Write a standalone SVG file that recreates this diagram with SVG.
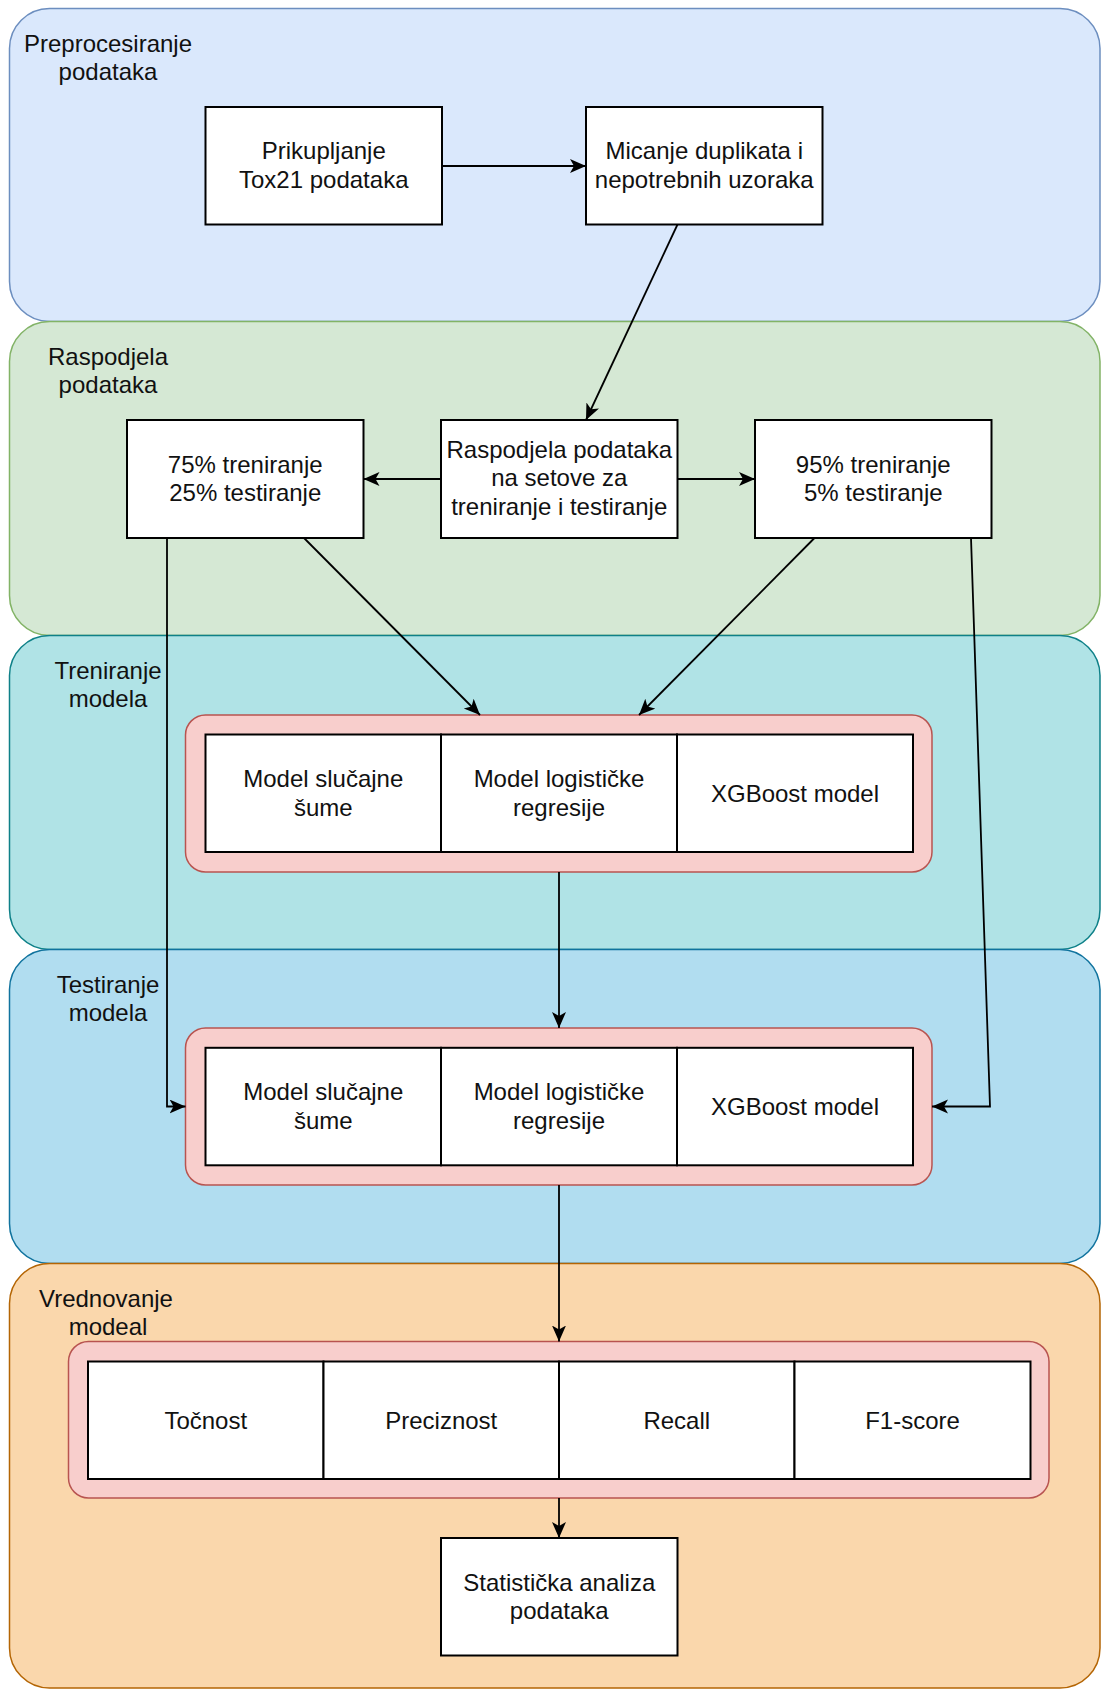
<svg xmlns="http://www.w3.org/2000/svg" width="1102" height="1690" viewBox="0 0 1102 1690">
<defs>
<style>
.lane{stroke-width:1.5}
.title,.t{font-family:"Liberation Sans",Arial,sans-serif;font-size:24px;fill:#111;text-anchor:middle}
.box{fill:#fff;stroke:#000;stroke-width:2}
.grp{fill:#f8cecc;stroke:#b85450;stroke-width:1.5}
.edge{fill:none;stroke:#000;stroke-width:1.8}
</style>
<marker id="arr" markerUnits="userSpaceOnUse" markerWidth="18" markerHeight="16" refX="16" refY="7" orient="auto">
<path d="M0,0 L16,7 L0,14 L4,7 Z" fill="#000"/>
</marker>
</defs>
<rect width="1102" height="1690" fill="#fff"/>

<g id="lane-preprocesiranje">
<rect class="lane" x="9.5" y="8.5" width="1090.5" height="313" rx="40" fill="#dae8fc" stroke="#6c8ebf"/>
<text class="title" x="108" y="51.5">Preprocesiranje</text>
<text class="title" x="108" y="80">podataka</text>
</g>
<g id="lane-raspodjela">
<rect class="lane" x="9.5" y="321.5" width="1090.5" height="314" rx="40" fill="#d5e8d4" stroke="#82b366"/>
<text class="title" x="108" y="364.5">Raspodjela</text>
<text class="title" x="108" y="393">podataka</text>
</g>
<g id="lane-treniranje">
<rect class="lane" x="9.5" y="635.5" width="1090.5" height="314" rx="40" fill="#b0e3e6" stroke="#0e8088"/>
<text class="title" x="108" y="678.5">Treniranje</text>
<text class="title" x="108" y="707">modela</text>
</g>
<g id="lane-testiranje">
<rect class="lane" x="9.5" y="949.5" width="1090.5" height="314" rx="40" fill="#b1ddf0" stroke="#10739e"/>
<text class="title" x="108" y="992.5">Testiranje</text>
<text class="title" x="108" y="1021">modela</text>
</g>
<g id="lane-vrednovanje">
<rect class="lane" x="9.5" y="1263.5" width="1090.5" height="424.5" rx="40" fill="#fad7ac" stroke="#b46504"/>
<text class="title" x="106" y="1306.5">Vrednovanje</text>
<text class="title" x="108" y="1335">modeal</text>
</g>

<g id="n-prikupljanje">
<rect class="box" x="205.5" y="107" width="236.5" height="117.5"/>
<text class="t" x="323.75" y="159">Prikupljanje</text>
<text class="t" x="323.75" y="188">Tox21 podataka</text>
</g>
<g id="n-micanje">
<rect class="box" x="586" y="107" width="236.5" height="117.5"/>
<text class="t" x="704.25" y="159">Micanje duplikata i</text>
<text class="t" x="704.25" y="188">nepotrebnih uzoraka</text>
</g>
<g id="n-raspodjela">
<rect class="box" x="441" y="420" width="236.5" height="118"/>
<text class="t" x="559.25" y="457.5">Raspodjela podataka</text>
<text class="t" x="559.25" y="486.3">na setove za</text>
<text class="t" x="559.25" y="515">treniranje i testiranje</text>
</g>
<g id="n-75">
<rect class="box" x="127" y="420" width="236.5" height="118"/>
<text class="t" x="245.25" y="472.5">75% treniranje</text>
<text class="t" x="245.25" y="501.3">25% testiranje</text>
</g>
<g id="n-95">
<rect class="box" x="755" y="420" width="236.5" height="118"/>
<text class="t" x="873.25" y="472.5">95% treniranje</text>
<text class="t" x="873.25" y="501.3">5% testiranje</text>
</g>

<g id="n-treniranje-modeli">
<rect class="grp" x="185.5" y="715" width="746.5" height="157" rx="20"/>
<rect class="box" x="205.5" y="734.5" width="235.5" height="117.5"/>
<rect class="box" x="441" y="734.5" width="236" height="117.5"/>
<rect class="box" x="677" y="734.5" width="236" height="117.5"/>
<text class="t" x="323.25" y="786.8">Model slučajne</text>
<text class="t" x="323.25" y="815.5">šume</text>
<text class="t" x="559" y="786.8">Model logističke</text>
<text class="t" x="559" y="815.5">regresije</text>
<text class="t" x="795" y="801.6">XGBoost model</text>
</g>

<g id="n-testiranje-modeli">
<rect class="grp" x="185.5" y="1028" width="746.5" height="157" rx="20"/>
<rect class="box" x="205.5" y="1047.8" width="235.5" height="117.5"/>
<rect class="box" x="441" y="1047.8" width="236" height="117.5"/>
<rect class="box" x="677" y="1047.8" width="236" height="117.5"/>
<text class="t" x="323.25" y="1100">Model slučajne</text>
<text class="t" x="323.25" y="1128.8">šume</text>
<text class="t" x="559" y="1100">Model logističke</text>
<text class="t" x="559" y="1128.8">regresije</text>
<text class="t" x="795" y="1114.9">XGBoost model</text>
</g>

<g id="n-metrike">
<rect class="grp" x="68.5" y="1341.5" width="980.5" height="156.5" rx="20"/>
<rect class="box" x="88" y="1361.5" width="235.5" height="117.5"/>
<rect class="box" x="323.5" y="1361.5" width="235.5" height="117.5"/>
<rect class="box" x="559" y="1361.5" width="235.5" height="117.5"/>
<rect class="box" x="794.5" y="1361.5" width="236" height="117.5"/>
<text class="t" x="205.75" y="1428.6">Točnost</text>
<text class="t" x="441.25" y="1428.6">Preciznost</text>
<text class="t" x="676.75" y="1428.6">Recall</text>
<text class="t" x="912.5" y="1428.6">F1-score</text>
</g>

<g id="n-statisticka">
<rect class="box" x="441" y="1538" width="236.5" height="117.5"/>
<text class="t" x="559.25" y="1590.5">Statistička analiza</text>
<text class="t" x="559.25" y="1619.3">podataka</text>
</g>

<g id="connectors">
<path class="edge" d="M442,166 L586,166" marker-end="url(#arr)"/>
<path class="edge" d="M677.5,224.5 L586,420" marker-end="url(#arr)"/>
<path class="edge" d="M441,479 L363.5,479" marker-end="url(#arr)"/>
<path class="edge" d="M677.5,479 L755,479" marker-end="url(#arr)"/>
<path class="edge" d="M304,538 L480,715" marker-end="url(#arr)"/>
<path class="edge" d="M814.5,538 L639,715" marker-end="url(#arr)"/>
<path class="edge" d="M167,538 L167,1106.5 L185.5,1106.5" marker-end="url(#arr)"/>
<path class="edge" d="M971,538 L990,1106.5 L932,1106.5" marker-end="url(#arr)"/>
<path class="edge" d="M559,872 L559,1028" marker-end="url(#arr)"/>
<path class="edge" d="M559,1185 L559,1341.5" marker-end="url(#arr)"/>
<path class="edge" d="M559,1498 L559,1538" marker-end="url(#arr)"/>
</g>
</svg>
